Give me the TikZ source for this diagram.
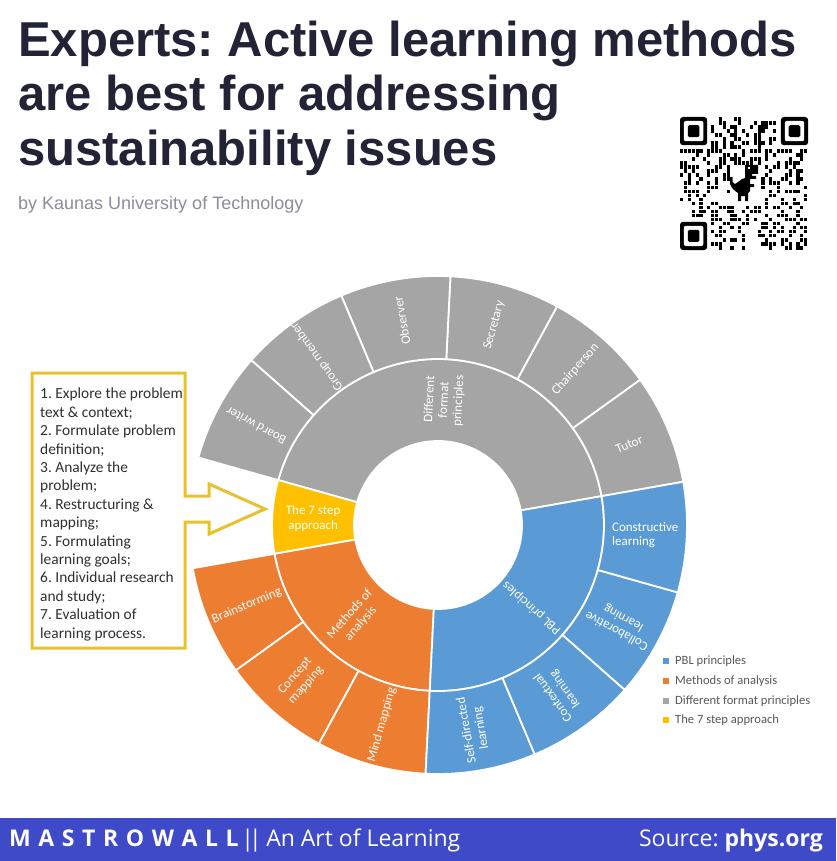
\documentclass[tikz,border=0pt]{standalone}
\usepackage{fontspec}
\setmainfont{Liberation Sans}
\newfontfamily\calibri{Carlito}
\newfontfamily\opensans{Open Sans}
\frenchspacing

\definecolor{pblblue}{RGB}{91,155,213}
\definecolor{methorange}{RGB}{237,125,49}
\definecolor{fmtgray}{RGB}{165,165,165}
\definecolor{stepyellow}{RGB}{255,192,0}
\definecolor{boxgold}{RGB}{232,194,46}
\definecolor{boxtext}{RGB}{48,48,48}
\definecolor{titlenavy}{RGB}{34,36,54}
\definecolor{bylinegray}{RGB}{140,140,156}
\definecolor{footblue}{RGB}{62,74,200}
\definecolor{legendgray}{RGB}{89,89,89}

% one piece of a ring: start, end, inner radius, outer radius, colour
\newcommand{\ringpart}[5]{%
  \filldraw[fill=#5, draw=white, line width=1.8pt]
    (#2:#4) arc[start angle=#2, end angle=#1, radius=#4] --
    (#1:#3) arc[start angle=#1, end angle=#2, radius=#3] -- cycle;}

\tikzset{
  seglabel/.style={text=white, align=center, inner sep=0pt,
    font=\calibri\fontsize{13}{14.5}\selectfont},
  legendtext/.style={anchor=west, text=legendgray, inner sep=0pt,
    font=\calibri\fontsize{12.6}{14}\selectfont},
  titleline/.style={anchor=base west, inner sep=0pt, text=titlenavy,
    font=\bfseries\fontsize{49}{55}\selectfont},
}

\begin{document}
\begin{tikzpicture}[x=1pt,y=1pt]
\useasboundingbox (0,0) rectangle (836,-861);
\fill[white] (0,0) rectangle (836,-861);

% heading
\node[titleline] (title1) at (18,-57) {Experts: Active learning methods};
\node[titleline] (title2) at (18,-111) {are best for addressing};
\node[titleline] (title3) at (18,-166) {sustainability issues};
\node[anchor=base west, inner sep=0pt, text=bylinegray,
      font=\fontsize{18}{20}\selectfont] (byline) at (18,-209)
      {by Kaunas University of Technology};

% qr code
\pgfmathsetseed{11}
\foreach \i in {0,...,32} {
  \foreach \j in {0,...,32} {
    \pgfmathtruncatemacro{\qroff}{((\i<8)&&(\j<8)) || ((\i>24)&&(\j<8)) ||
      ((\i<8)&&(\j>24)) || ((\i>12)&&(\i<21)&&(\j>11)&&(\j<22)) ? 1 : (rnd<0.4 ? 0 : 1)}
    \ifnum\qroff=0
      \fill (680+\i*3.88,-117-\j*4.03) rectangle ++(3.1,-3.6);
    \fi
  }
}
\foreach \fx/\fy in {680/-117, 780.9/-117, 680/-221.8} {
  \fill[rounded corners=3pt] (\fx,\fy) rectangle ++(27.2,-28.2);
  \fill[white, rounded corners=2pt] (\fx+3.9,\fy-4) rectangle ++(19.4,-20.2);
  \fill[rounded corners=1.5pt] (\fx+7.8,\fy-8.1) rectangle ++(11.6,-12);
}
% dino
\fill (745,-165) -- (758,-165) -- (758,-174) -- (752,-174) -- (752,-176) --
  (756,-176) -- (756,-179) -- (750,-179) -- (750,-184) -- (754,-184) --
  (754,-187) -- (750,-187) -- (750,-191) -- (748,-193) -- (748,-201) --
  (745,-201) -- (745,-196) -- (741,-196) -- (741,-201) -- (738,-201) --
  (738,-193) -- (735,-191) -- (732,-188) -- (730,-184) -- (730,-177) --
  (732.5,-177) -- (732.5,-182) -- (735,-184) -- (738,-182) -- (742,-179) --
  (745,-178) -- cycle;
\fill[white] (747.5,-167) rectangle (749.5,-169);

% sunburst
\begin{scope}[shift={(438,-525)}]
  % inner ring
  \ringpart{10}{164.286}{84}{166}{fmtgray}
  \ringpart{164.286}{190}{84}{166}{stepyellow}
  \ringpart{190}{267.143}{84}{166}{methorange}
  \ringpart{267.143}{370}{84}{166}{pblblue}
  % outer ring, one leaf each 360/14 degrees
  \foreach \k/\col in {0/fmtgray, 1/fmtgray, 2/fmtgray, 3/fmtgray, 4/fmtgray,
      5/fmtgray, 7/methorange, 8/methorange, 9/methorange, 10/pblblue,
      11/pblblue, 12/pblblue, 13/pblblue} {
    \pgfmathsetmacro{\aa}{10+\k*25.7143}
    \pgfmathsetmacro{\bb}{10+(\k+1)*25.7143}
    \ringpart{\aa}{\bb}{166}{249}{\col}
  }

  % inner labels
  \node[seglabel, rotate=87.14] (fmt) at (87.14:125) {Different\\format\\principles};
  \node[seglabel] (sevenstep) at (177.14:125) {The 7 step\\approach};
  \node[seglabel, rotate=48.57] (methods) at (228.57:125) {Methods of\\analysis};
  \node[seglabel, rotate=138.57] (pbl) at (318.57:125) {PBL principles};

  % outer labels
  \node[seglabel, rotate=22.86] (tutor) at (22.86:207.5) {Tutor};
  \node[seglabel, rotate=48.57] (chair) at (48.57:207.5) {Chairperson};
  \node[seglabel, rotate=74.29] (secretary) at (74.29:207.5) {Secretary};
  \node[seglabel, rotate=100] (observer) at (100:207.5) {Observer};
  \node[seglabel, rotate=125.71] (groupmember) at (125.71:207.5) {Group member};
  \node[seglabel, rotate=151.43] (boardwriter) at (151.43:207.5) {Board writer};
  \node[seglabel, rotate=22.86] (brainstorm) at (202.86:207.5) {Brainstorming};
  \node[seglabel, rotate=48.57] (concept) at (228.57:207.5) {Concept\\mapping};
  \node[seglabel, rotate=74.29] (mindmap) at (254.29:207.5) {Mind mapping};
  \node[seglabel, rotate=100] (selfdir) at (280:207.5) {Self-directed\\learning};
  \node[seglabel, rotate=125.71] (contextual) at (305.71:207.5) {Contextual\\learning};
  \node[seglabel, rotate=151.43] (collab) at (331.43:207.5) {Collaborative\\learning};
  \node[seglabel, align=left] (constructive) at (357.14:207.5) {Constructive\\learning};
\end{scope}

% the seven steps, boxed, with arrow
\draw[boxgold, line width=3pt, line join=miter]
  (32,-373) -- (185,-373) -- (185,-496) -- (209,-496) -- (209,-484) --
  (265,-509) -- (209,-534) -- (209,-522) -- (185,-522) -- (185,-648) --
  (32,-648) -- cycle;
\node[anchor=north west, align=left, inner sep=0pt, text=boxtext,
      font=\calibri\fontsize{15.4}{18.4}\selectfont] (steps) at (40,-388)
  {1. Explore the problem\\
   text \& context;\\
   2. Formulate problem\\
   definition;\\
   3. Analyze the\\
   problem;\\
   4. Restructuring \&\\
   mapping;\\
   5. Formulating\\
   learning goals;\\
   6. Individual research\\
   and study;\\
   7. Evaluation of\\
   learning process.};

% legend
\foreach \y/\col/\txt [count=\n] in {-661/pblblue/PBL principles,
    -681/methorange/Methods of analysis,
    -701/fmtgray/Different format principles,
    -720/stepyellow/The 7 step approach} {
  \fill[\col] (663,\y+3) rectangle ++(6,-6);
  \node[legendtext] (legend\n) at (675,\y) {\txt};
}

% footer
\fill[footblue] (0,-818) rectangle (836,-861);
\node[anchor=base west, inner sep=0pt, text=white,
      font=\opensans\fontsize{23}{26}\selectfont] (brand) at (9,-846)
  {\textbf{M\hspace{0.33em}A\hspace{0.33em}S\hspace{0.33em}T\hspace{0.33em}R\hspace{0.33em}O\hspace{0.33em}W\hspace{0.33em}A\hspace{0.33em}L\hspace{0.33em}L}\hspace{0.12em}|\kern-0.22em|\hspace{0.2em}An Art of Learning};
\node[anchor=base east, inner sep=0pt, text=white,
      font=\opensans\fontsize{23}{26}\selectfont] (source) at (823,-846)
  {Source: \textbf{phys.org}};
\end{tikzpicture}
\end{document}
